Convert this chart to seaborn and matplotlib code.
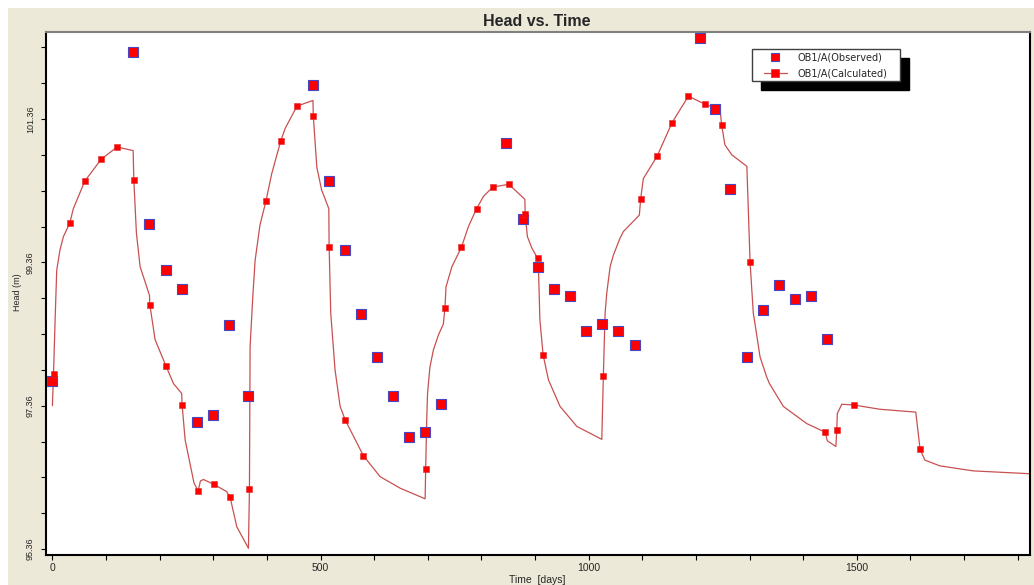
import numpy as np
import matplotlib
matplotlib.use('Agg')
import matplotlib.pyplot as plt
import seaborn as sns
from matplotlib.lines import Line2D
from matplotlib.patches import Rectangle
from matplotlib.ticker import FixedLocator, MultipleLocator
from matplotlib.legend_handler import HandlerLine2D

# ---------------- data ----------------
obs_days = [0, 151, 181, 211, 241, 270, 300, 329.5, 365.5, 485.5, 516, 546, 576, 606,
            635, 664.5, 694, 725, 845, 877, 905.6, 935.5, 966, 995.7, 1025.5, 1055,
            1086, 1208, 1235, 1264, 1295, 1325, 1355, 1385, 1415, 1445]
obs_head = [97.70, 102.30, 99.89, 99.25, 98.99, 97.13, 97.23, 98.49, 97.495, 101.84,
            100.495, 99.53, 98.64, 98.04, 97.495, 96.92, 96.99, 97.39, 101.03, 99.97,
            99.30, 98.99, 98.89, 98.40, 98.495, 98.40, 98.20, 102.49, 101.495, 100.39,
            98.04, 98.70, 99.04, 98.85, 98.89, 98.295]

calc_days = [0, 2, 5, 8, 14, 20.5, 32.4, 39, 60.4, 91, 120.6, 150.5, 151.8, 156.6, 163.5,
             181, 181.6, 191.5, 211.4, 225.6, 241, 241.8, 247.5, 264, 271.7, 276, 281.6,
             301.5, 325, 331.4, 343.8, 365.5, 367.4, 368.6, 373.6, 378, 387, 398, 409,
             426, 434, 456, 485.8, 486.5, 493, 502, 515.4, 516, 519, 527, 536.5, 546,
             580, 611, 648, 695, 696, 698, 699.5, 704, 710.5, 720, 729, 732, 734, 745,
             762.7, 775.7, 791, 803.7, 821, 851, 881, 881.6, 885.7, 894, 903, 905.6,
             906.5, 909, 915, 925, 946.6, 978, 1024.5, 1027.4, 1030.6, 1033.7, 1036.7,
             1040, 1046, 1058.6, 1064.7, 1094.5, 1097, 1102, 1127.5, 1155.5, 1186, 1216,
             1245, 1248, 1254, 1267, 1295, 1298, 1301, 1307, 1310, 1319.6, 1332, 1337,
             1363, 1406.6, 1441, 1445, 1461, 1462.6, 1463.7, 1472, 1494, 1543, 1610,
             1618, 1627, 1655, 1717, 1823]
calc_head = [97.36, 97.80, 98.56, 99.25, 99.53, 99.72, 99.91, 100.11, 100.495, 100.80,
             100.97, 100.92, 100.505, 99.77, 99.30, 98.90, 98.77, 98.28, 97.92, 97.67,
             97.53, 97.37, 96.88, 96.28, 96.17, 96.31, 96.33, 96.26, 96.16, 96.08, 95.67,
             95.37, 96.20, 98.18, 98.88, 99.39, 99.88, 100.21, 100.60, 101.06, 101.23,
             101.54, 101.62, 101.40, 100.69, 100.37, 100.11, 99.58, 98.65, 97.86, 97.35,
             97.16, 96.66, 96.37, 96.21, 96.06, 96.47, 97.16, 97.53, 97.90, 98.14, 98.35,
             98.50, 98.73, 99.02, 99.30, 99.57, 99.86, 100.11, 100.28, 100.41, 100.45,
             100.24, 100.04, 99.72, 99.56, 99.44, 99.42, 99.25, 98.56, 98.07, 97.72,
             97.35, 97.07, 96.89, 97.78, 98.65, 98.93, 99.11, 99.30, 99.46, 99.70, 99.79,
             100.02, 100.25, 100.53, 100.84, 101.31, 101.68, 101.57, 101.49, 101.28,
             101.00, 100.86, 100.70, 100.04, 99.36, 98.65, 98.51, 98.04, 97.76, 97.67,
             97.35, 97.11, 96.99, 96.87, 96.79, 97.02, 97.25, 97.38, 97.37, 97.31, 97.27,
             96.75, 96.60, 96.52, 96.45, 96.41]

calc_mark_days = [2, 32.4, 60.4, 91, 120.6, 151.8, 181.6, 211.4, 241.8, 271.7, 301.5,
                  331.4, 367.4, 398, 426, 456, 486.5, 516, 546, 580, 696, 732, 762.7, 791,
                  821, 851, 881.6, 905.6, 915, 1027.4, 1097, 1127.5, 1155.5, 1186, 1216,
                  1248, 1301, 1441, 1462.6, 1494, 1618]
calc_mark_head = [97.80, 99.91, 100.495, 100.80, 100.97, 100.505, 98.77, 97.92, 97.37,
                  96.17, 96.26, 96.08, 96.20, 100.21, 101.06, 101.54, 101.40, 99.58, 97.16,
                  96.66, 96.47, 98.73, 99.57, 100.11, 100.41, 100.45, 100.04, 99.42, 98.07,
                  97.78, 100.25, 100.84, 101.31, 101.68, 101.57, 101.28, 99.36, 96.99,
                  97.02, 97.37, 96.75]

x_ticks = [0, 500, 1000, 1500]
y_ticks = [95.36, 97.36, 99.36, 101.36]
y_tick_labels = ['95.36', '97.36', '99.36', '101.36']
legend_labels = ['OB1/A(Observed)', 'OB1/A(Calculated)']
title_text = 'Head vs. Time'
x_label = 'Time  [days]'
y_label = 'Head (m)'

# ---------------- style ----------------
sns.set_style('white')
plt.rcParams['font.family'] = ['Liberation Sans', 'DejaVu Sans']

LINE_C = '#C85050'
RED = '#FF0000'
BLUE_EDGE = '#4848C4'
CALC_EDGE = '#E02828'

W, H = 1034, 585
fig = plt.figure(figsize=(W / 100, H / 100), dpi=100, facecolor='white')
fig.add_artist(Rectangle((8 / W, 0), 1, (H - 8) / H, transform=fig.transFigure,
                         facecolor='#ECE9D8', edgecolor='none', zorder=-5))

ax = fig.add_axes([46 / W, 30 / H, 984 / W, 523 / H])
ax.set_facecolor('white')

sns.lineplot(x=calc_days, y=calc_head, ax=ax, color=LINE_C, lw=0.9,
             estimator=None, sort=False, zorder=2)
sns.scatterplot(x=obs_days, y=obs_head, ax=ax, marker='s', s=52, color=RED,
                edgecolor=BLUE_EDGE, linewidth=0.8, zorder=3)
sns.scatterplot(x=calc_mark_days, y=calc_mark_head, ax=ax, marker='s', s=20, color=RED,
                edgecolor=CALC_EDGE, linewidth=0.4, zorder=4)

ax.set_xlim(-12, 1823)
ax.set_ylim(95.276, 102.575)

ax.set_xticks(x_ticks)
ax.set_xticklabels([str(t) for t in x_ticks])
ax.xaxis.set_minor_locator(MultipleLocator(100))
ax.set_yticks(y_ticks)
ax.set_yticklabels(y_tick_labels)
ax.yaxis.set_minor_locator(FixedLocator(np.arange(95.36, 102.4, 0.5)))

ax.tick_params(which='both', bottom=True, left=True, direction='out', length=3.5,
               width=0.8, color='black')
ax.tick_params(axis='x', labelsize=7.5, pad=2)
ax.tick_params(axis='y', labelsize=6.5, pad=4.5, labelrotation=90)
for lab in ax.get_yticklabels():
    lab.set_va('center')

ax.set_xlabel('')
ax.set_ylabel('')

for side in ['left', 'bottom', 'right']:
    ax.spines[side].set_color('black')
    ax.spines[side].set_linewidth(1.5)
ax.spines['top'].set_color('#808080')
ax.spines['top'].set_linewidth(1.5)

handles = [
    Line2D([], [], ls='none', marker='s', ms=6.2, mfc=RED, mec=BLUE_EDGE, mew=0.8),
    Line2D([], [], color=LINE_C, lw=0.9, marker='s', ms=6.2, mfc=RED, mec=CALC_EDGE, mew=0.5),
]
leg = ax.legend(handles, legend_labels, loc='upper left',
                bbox_to_anchor=(0.7175, 0.5, 0.1504, 0.4675), mode='expand',
                borderaxespad=0, fancybox=False, edgecolor='#404040', framealpha=1,
                prop={'family': 'DejaVu Sans', 'size': 7}, borderpad=0.32,
                handletextpad=1.13, handlelength=3.25, labelspacing=0.62,
                handler_map={Line2D: HandlerLine2D(xpad=0.88)},
                shadow={'ox': 6.5, 'oy': -6.5, 'facecolor': 'black', 'edgecolor': 'black', 'alpha': 1})
leg.get_frame().set_linewidth(1.0)

fig.text(537 / W, 1 - 22 / H, title_text, ha='center', va='center', fontsize=11.5,
         fontweight='bold')
fig.text(17.5 / W, 1 - 292 / H, y_label, rotation=90, ha='center', va='center', fontsize=6.5)
fig.text(537 / W, 1 - 580 / H, x_label, ha='center', va='center', fontsize=7.5)

fig.savefig('out.png', dpi=100, facecolor=fig.get_facecolor())
